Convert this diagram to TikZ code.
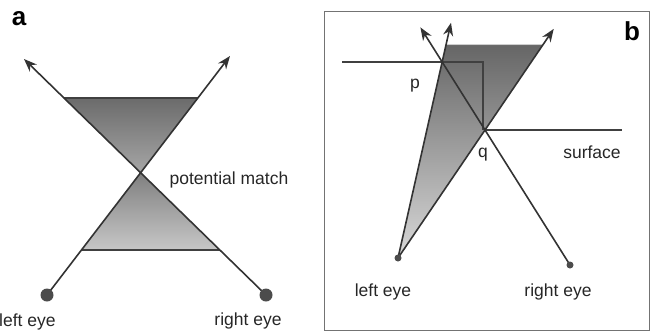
\documentclass[tikz,border=0pt]{standalone}
\usepackage{fontspec}
\setmainfont{Liberation Sans}
\usetikzlibrary{arrows.meta,calc}

\begin{document}
\begin{tikzpicture}[x=1pt,y=-1pt,
  ray/.style={line width=1.6pt, draw=black!80, -{Stealth[length=13pt,width=10pt]}},
  edge/.style={line width=1.6pt, draw=black!75},
  lbl/.style={font=\fontsize{17.5}{20}\selectfont, inner sep=0pt, text=black!85},
  panel/.style={font=\fontsize{26}{30}\selectfont\bfseries, inner sep=0pt},
  eyedot/.style={fill=black!70}]
\useasboundingbox (0,0) rectangle (650,333);
% Panel a: eyes and ray tips
\coordinate (aLE) at (47,295);
\coordinate (aRE) at (266,295);
\coordinate (aUL) at (24,59);
\coordinate (aUR) at (230,56);
\coordinate (aX) at (intersection of aLE--aUR and aRE--aUL);
% Panel a: shaded regions
\coordinate (aT1) at (intersection of aRE--aUL and 0,98--1,98);
\coordinate (aT2) at (intersection of aLE--aUR and 0,98--1,98);
\coordinate (aB1) at (intersection of aLE--aUR and 0,250--1,250);
\coordinate (aB2) at (intersection of aRE--aUL and 0,250--1,250);
\shade[top color=black!58, bottom color=black!35] (aT1) -- (aT2) -- (aX) -- cycle;
\shade[top color=black!50, bottom color=black!22] (aX) -- (aB2) -- (aB1) -- cycle;
\draw[edge] (aT1) -- (aT2);
\draw[edge] (aB1) -- (aB2);
% Panel a: rays
\draw[ray] (aLE) -- (aUR);
\draw[ray] (aRE) -- (aUL);
\fill[eyedot] (aLE) circle (6.5);
\fill[eyedot] (aRE) circle (6.5);
% Panel a: labels
\node[panel] (pa) at (19,19) {a};
\node[lbl] (match) at (229,180) {potential match};
\node[lbl, anchor=west] (aleft) at (-1,322) {left eye};
\node[lbl] (aright) at (248,321) {right eye};

% Panel b: frame
\draw[black!55, line width=1pt] (324,11) rectangle (649,330);
% Panel b: eyes and crossings
\coordinate (bLE) at (398,258);
\coordinate (bRE) at (570,265);
\coordinate (bq) at (485,130);
\coordinate (bp) at ($(bRE)!1.504!(bq)$);
\coordinate (bT1) at ($(bLE)!1.2!(bp)$);
\coordinate (bT2) at ($(bLE)!1.79!(bq)$);
\coordinate (bT3) at ($(bRE)!1.76!(bq)$);
% Panel b: shaded region
\coordinate (bS1) at (intersection of bLE--bp and 0,45--1,45);
\coordinate (bS2) at (intersection of bLE--bq and 0,45--1,45);
\shade[top color=black!60, bottom color=black!15] (bLE) -- (bS1) -- (bS2) -- cycle;
\draw[black!55, line width=0.8pt] (bS1) -- (bS2);
% Panel b: surface
\coordinate (bW) at (342,62);
\coordinate (bE) at (622,130);
\draw[edge] (bW) -- ($(bq |- bW)+(-2,0)$) -- ($(bq)+(-2,0)$);
\draw[edge] (bq) -- (bE);
% Panel b: rays
\draw[ray] (bLE) -- (bT1);
\draw[ray] (bLE) -- (bT2);
\draw[ray] (bRE) -- (bT3);
\fill[eyedot] (bLE) circle (3.5);
\fill[eyedot] (bRE) circle (3.5);
% Panel b: labels
\node[panel] (pb) at (632,31) {b};
\node[lbl] (lp) at (415,86) {p};
\node[lbl] (lq) at (483,155) {q};
\node[lbl] (surf) at (592,152) {surface};
\node[lbl] (bleft) at (383,292) {left eye};
\node[lbl] (bright) at (558,292) {right eye};
\end{tikzpicture}
\end{document}
